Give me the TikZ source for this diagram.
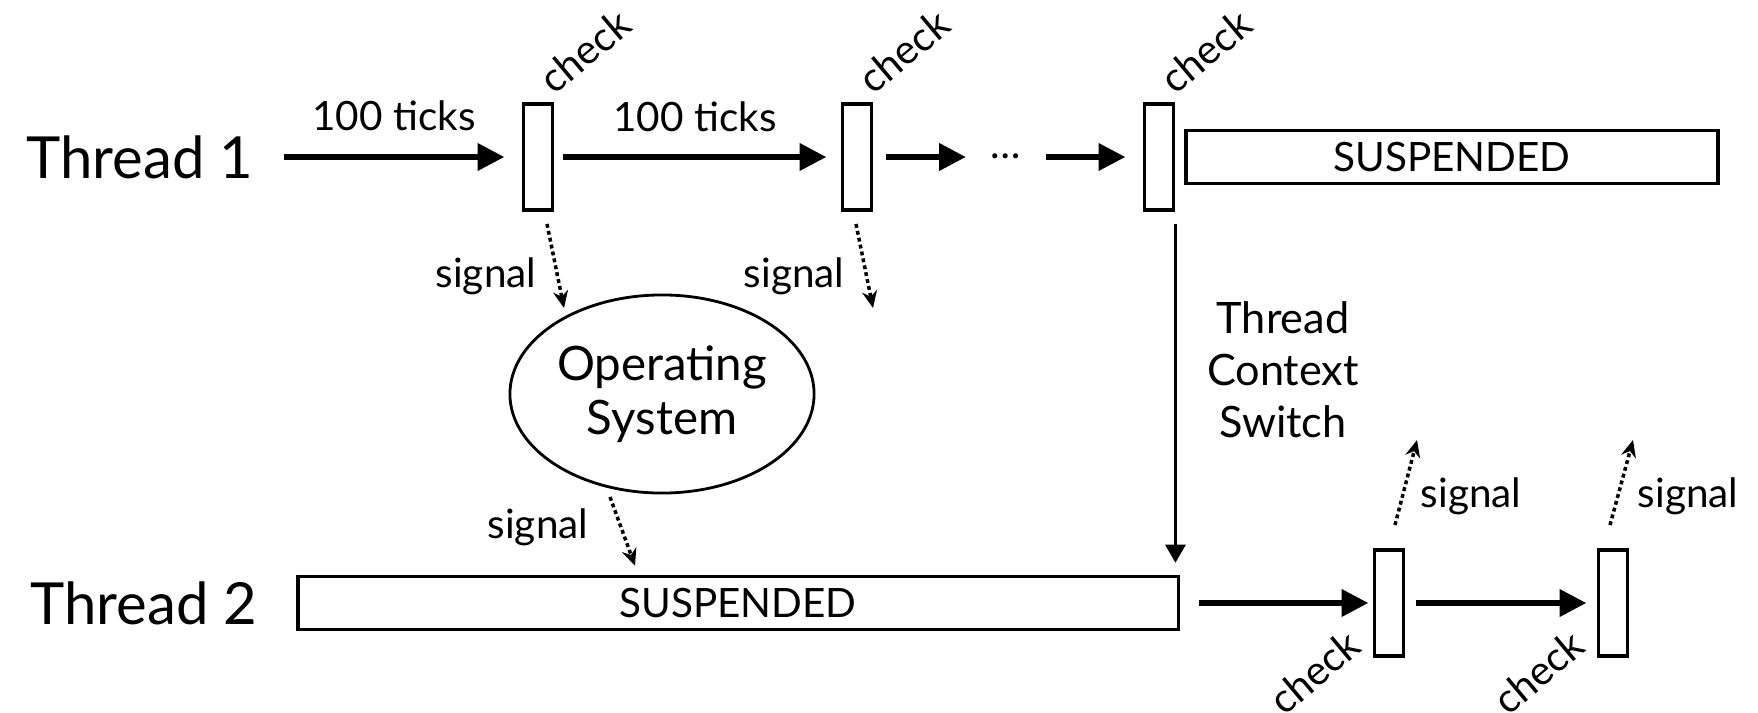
\documentclass[tikz,border=0pt]{standalone}
\usepackage{fontspec}
\setmainfont{Lato}
\usetikzlibrary{shapes.geometric}
\usetikzlibrary{arrows.meta}
\newcommand{\lblsize}{\fontsize{11.5}{14}\selectfont}
\newcommand{\thrsize}{\fontsize{16.5}{19}\selectfont}

\begin{document}
\begin{tikzpicture}[x=0.01cm,y=-0.01cm,
  lbl/.style={inner sep=0,font=\lblsize},
  thr/.style={inner sep=0,font=\thrsize},
  chk/.style={draw,line width=1.1pt,minimum width=0.29cm,minimum height=1.06cm,inner sep=0},
  chklbl/.style={lbl,rotate=40,inner sep=1pt},
  susp/.style={draw,line width=1pt,minimum height=0.53cm,inner sep=0,font=\lblsize},
  run/.style={line width=1.9pt,-{Triangle[length=0.27cm,width=0.26cm]}},
  sig/.style={line width=1pt,dash pattern=on 1.1pt off 0.9pt,-{Stealth[length=0.17cm,width=0.15cm]}},
  sw/.style={line width=0.85pt,-{Triangle[length=0.18cm,width=0.2cm]}}]
\useasboundingbox (0,0) rectangle (1758,712);
\node[thr] (t1) at (140,157) {Thread 1}; %thread 1
\node[chk] (c1) at (538,157) {};
\node[chk] (c2) at (857,157) {};
\node[lbl] (dots) at (1006,156) {\ldots};
\node[chk] (c3) at (1159,157) {};
\node[susp,minimum width=5.32cm] (tsusp) at (1452,157) {SUSPENDED};
\node[chklbl,anchor=south west] (k1) at (c1.north east) {check};
\node[chklbl,anchor=south west] (k2) at (c2.north east) {check};
\node[chklbl,anchor=south west] (k3) at (c3.north east) {check};
\node[lbl,anchor=base] (tk1) at (394,130) {100 ticks};
\node[lbl,anchor=base] (tk2) at (695,131) {100 ticks};
\draw[run,shorten <=0.3cm,shorten >=0.17cm] (t1) -- (c1);
\draw[run,shorten <=0.09cm,shorten >=0.14cm] (c1) -- (c2);
\draw[run,shorten <=0.13cm,shorten >=0.24cm] (c2.east) -- (c2.east -| dots.west);
\draw[run,shorten <=0.24cm,shorten >=0.17cm] (c3.west -| dots.east) -- (c3.west);
%operating system
\node[ellipse,draw,line width=0.8pt,minimum width=3.04cm,minimum height=1.98cm,inner sep=0,
  align=center,font=\fontsize{13.5}{15.4}\selectfont] (os) at (662,394) {Operating\\System};
\coordinate (s1) at (564,308);
\coordinate (s2) at (873,308);
\draw[sig] ([shift={(9,12)}]c1.south) -- (s1);
\draw[sig] ([shift={(-1,12)}]c2.south) -- (s2);
\node[lbl,anchor=base] (g1) at (486,287) {signal};
\node[lbl,anchor=base] (g2) at (794,287) {signal};
%thread 2
\node[thr] (t2) at (144,603) {Thread 2};
\node[susp,minimum width=8.8cm] (bsusp) at (738,603) {SUSPENDED};
\draw[sig] ([shift={(-52,103)}]os.center) -- ([shift={(-103,-9)}]bsusp.north);
\node[lbl,anchor=base] (g3) at (538,538) {signal};
%context switch
\draw[sw,shorten <=0.12cm,shorten >=0.12cm] (c3.south east) -- (c3.south east |- bsusp.north);
\node[inner sep=0,align=center,font=\fontsize{12.3}{14.8}\selectfont] (ctx) at (1283,370) {Thread\\Context\\Switch};
\node[chk] (d1) at (1389,603) {};
\node[chk] (d2) at (1613,603) {};
\draw[run,shorten <=0.19cm,shorten >=0.04cm] (bsusp) -- (d1);
\draw[run,shorten <=0.11cm,shorten >=0.1cm] (d1) -- (d2);
\node[chklbl,anchor=south east] (k4) at ([shift={(-3,-7)}]d1.south west) {check};
\node[chklbl,anchor=south east] (k5) at ([shift={(-3,-7)}]d2.south west) {check};
\coordinate (s4) at (1417,440);
\coordinate (s5) at (1633,440);
\draw[sig] ([shift={(6,-23)}]d1.north) -- (s4);
\draw[sig] ([shift={(-3,-23)}]d2.north) -- (s5);
\node[lbl,anchor=base] (g4) at (1471,507) {signal};
\node[lbl,anchor=base] (g5) at (1688,507) {signal};
\end{tikzpicture}
\end{document}
